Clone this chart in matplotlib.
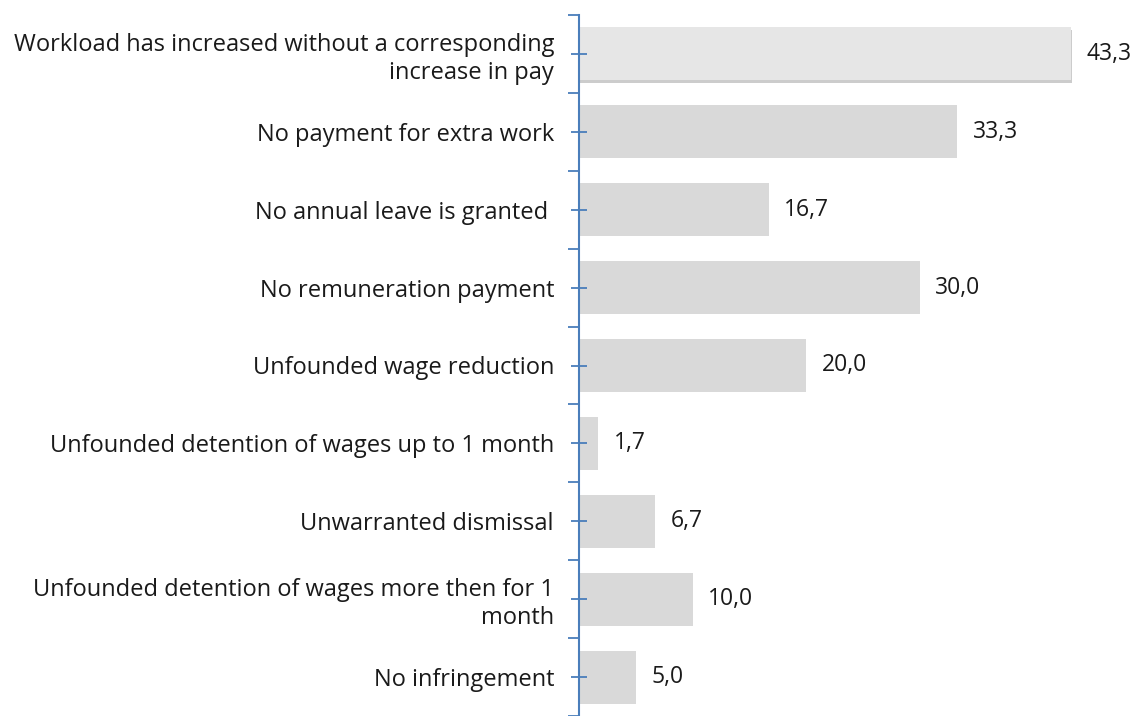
import matplotlib.pyplot as plt
import matplotlib.patheffects as pe
import numpy as np

# survey categories and percentages
categories = [
    "Workload has increased without a corresponding\nincrease in pay",
    "No payment for extra work",
    "No annual leave is granted ",
    "No remuneration payment",
    "Unfounded wage reduction",
    "Unfounded detention of wages up to 1 month",
    "Unwarranted dismissal",
    "Unfounded detention of wages more then for 1\nmonth",
    "No infringement",
]
values = [43.3, 33.3, 16.7, 30.0, 20.0, 1.7, 6.7, 10.0, 5.0]

plt.rcParams["font.family"] = ["Open Sans", "DejaVu Sans"]

fig = plt.figure(figsize=(11.39, 7.16), dpi=100)
ax = fig.add_axes([579 / 1139, 0, 1 - 579 / 1139, 1 - 15 / 716])

y = np.arange(len(categories))
colors = ["#e6e6e6"] + ["#d9d9d9"] * (len(categories) - 1)
bars = ax.barh(y, values, height=0.68, color=colors, zorder=1)
bars[0].set_path_effects([pe.SimplePatchShadow(offset=(1, -1.5), shadow_rgbFace="#aaaaaa", alpha=0.6), pe.Normal()])

ax.bar_label(bars, labels=[f"{v:.1f}".replace(".", ",") for v in values],
             padding=11, fontsize=16.5, color="#1a1a1a")

ax.set_ylim(len(categories) - 0.5, -0.5)
ax.set_xlim(0, (1139 - 579) / 11.36)

ax.set_yticks(y)
ax.set_yticklabels(categories, fontsize=17, color="#1a1a1a", ha="right")
ax.set_yticks(np.arange(len(categories) + 1) - 0.5, minor=True)
ax.tick_params(axis="y", which="major", direction="inout", length=12, width=1.3,
               color="#4a7ebb", pad=12)
ax.tick_params(axis="y", which="minor", direction="out", length=8, width=1.3,
               color="#4a7ebb")
ax.yaxis.set_zorder(3)

for side in ["top", "right", "bottom"]:
    ax.spines[side].set_visible(False)
ax.spines["left"].set_color("#4a7ebb")
ax.spines["left"].set_linewidth(1.5)
ax.spines["left"].set_zorder(3)
ax.set_xticks([])

fig.savefig("out.png", dpi=100)
